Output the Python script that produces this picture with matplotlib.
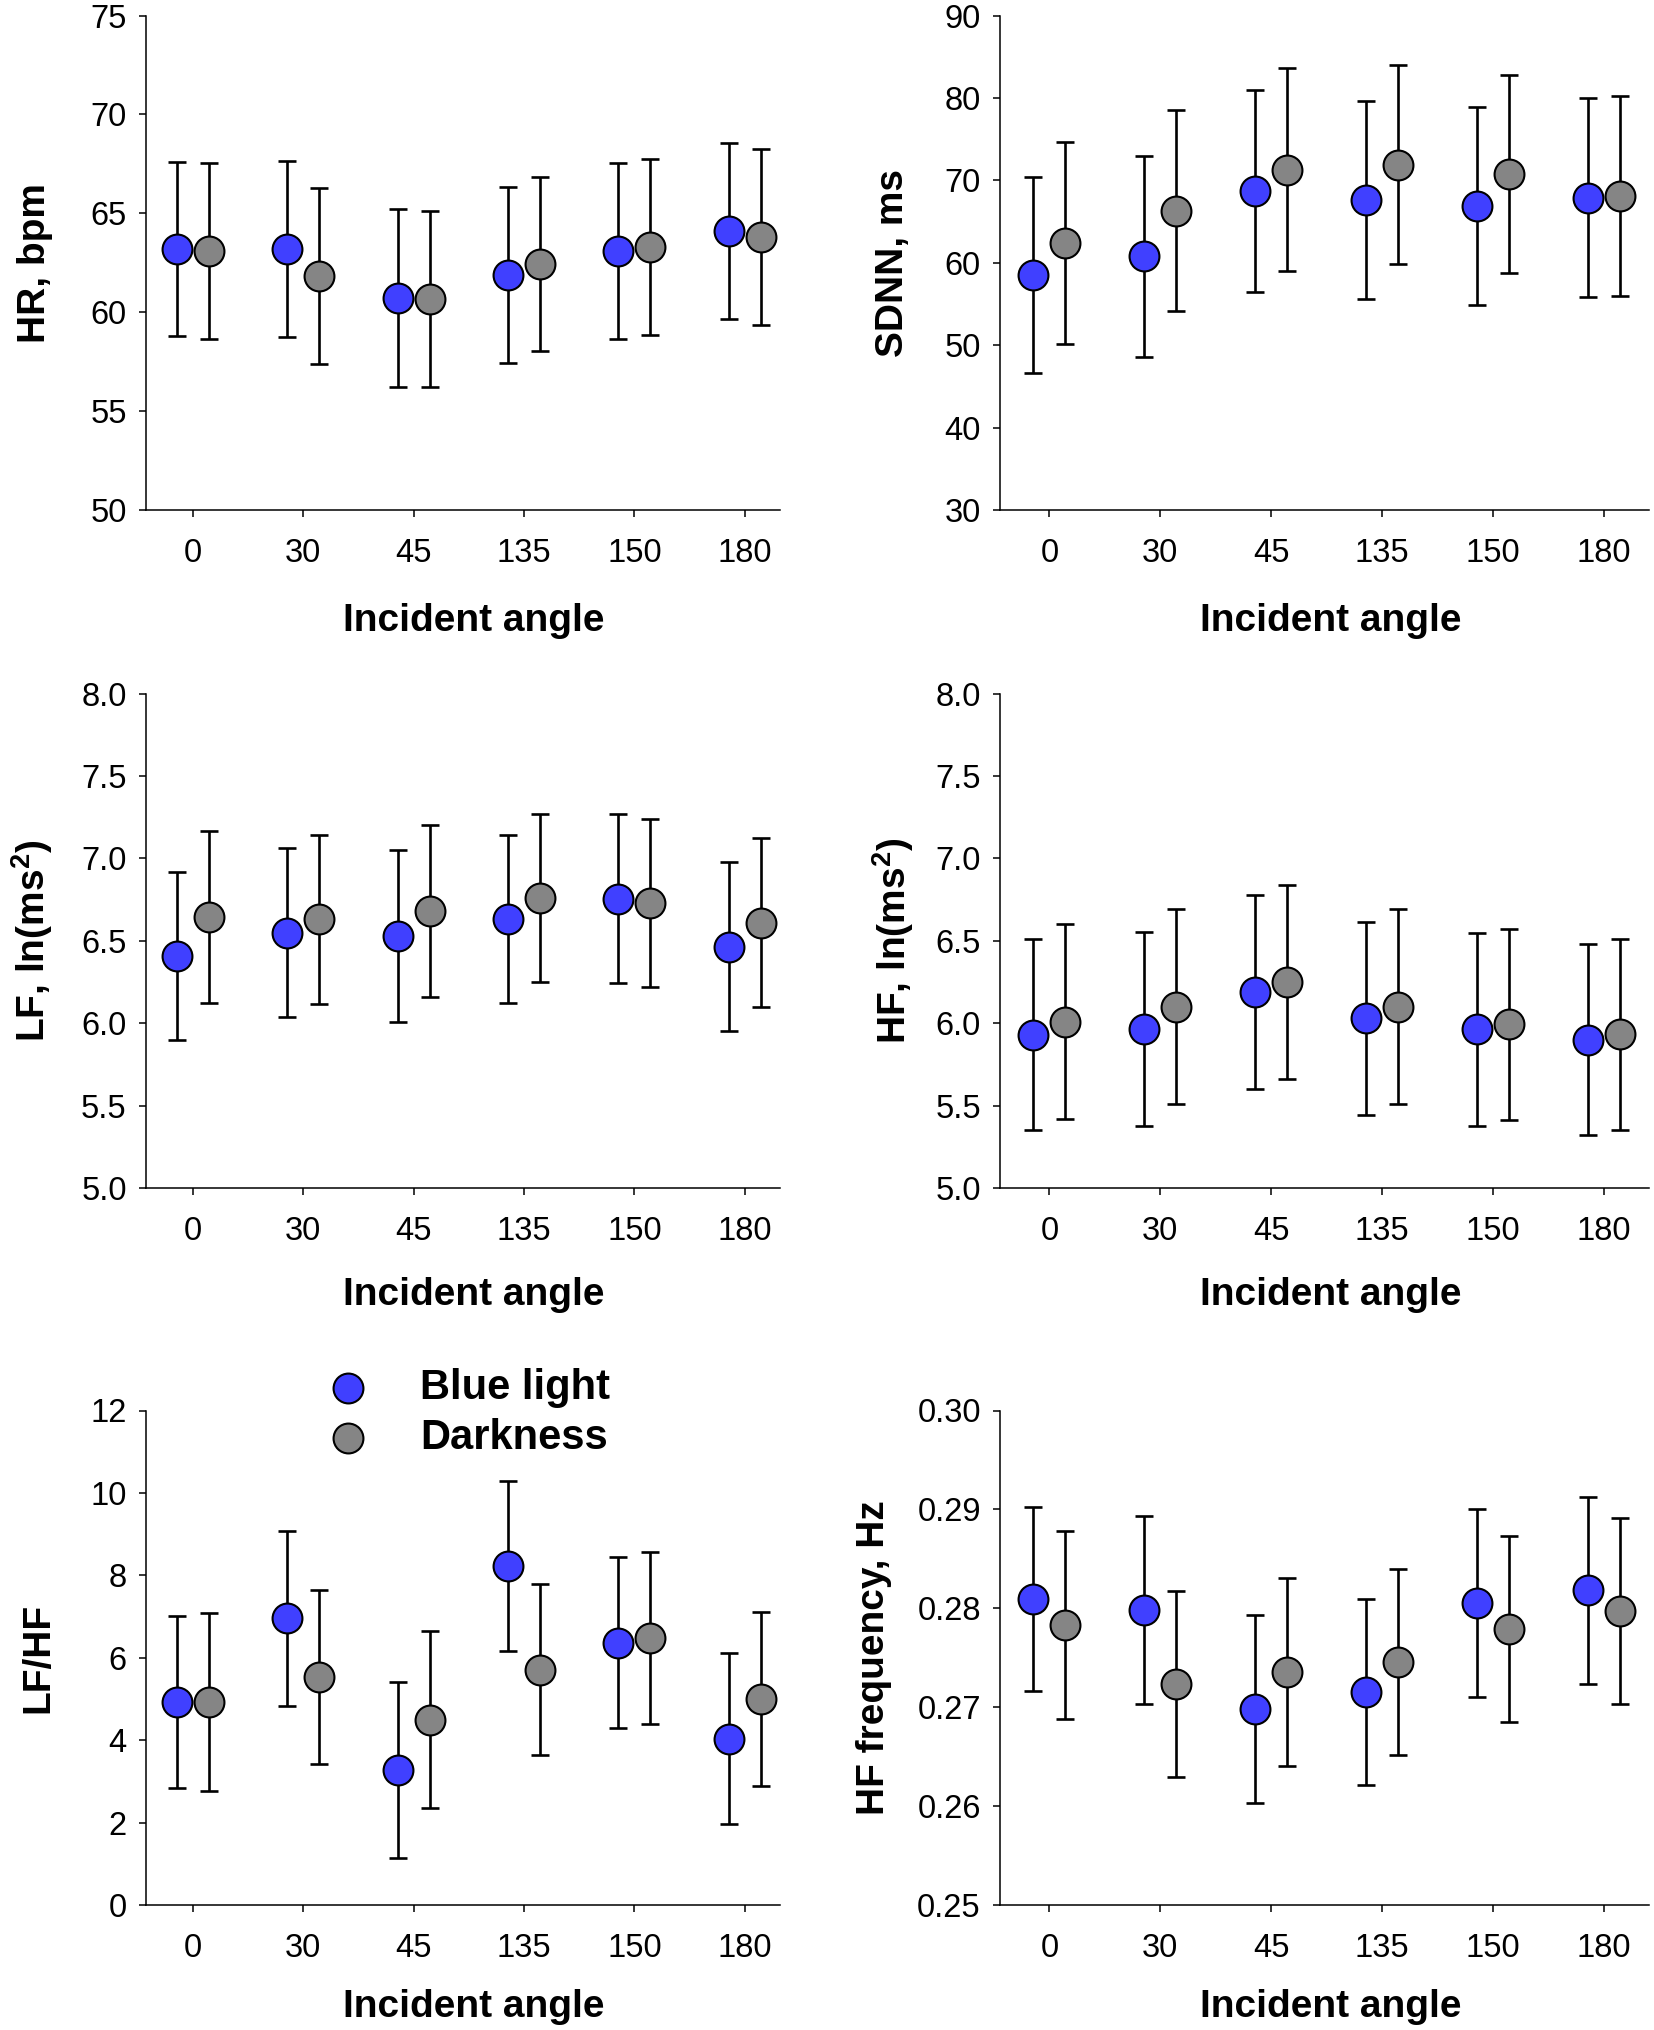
import matplotlib
matplotlib.use("Agg")
import matplotlib.pyplot as plt
import numpy as np

plt.rcParams['font.family'] = ['Liberation Sans', 'DejaVu Sans']
plt.rcParams['mathtext.fontset'] = 'custom'
plt.rcParams['mathtext.rm'] = 'Liberation Sans:bold'
plt.rcParams['mathtext.it'] = 'Liberation Sans:bold'
plt.rcParams['mathtext.bf'] = 'Liberation Sans:bold'

angles = ["0", "30", "45", "135", "150", "180"]

# HR, bpm
hr_blue = [63.2, 63.2, 60.7, 61.9, 63.1, 64.1]
hr_blue_err = [4.4, 4.45, 4.5, 4.45, 4.45, 4.45]
hr_dark = [63.1, 61.85, 60.65, 62.45, 63.3, 63.8]
hr_dark_err = [4.45, 4.45, 4.45, 4.4, 4.45, 4.45]

# SDNN, ms
sdnn_blue = [58.5, 60.8, 68.7, 67.6, 66.9, 67.9]
sdnn_blue_err = [11.9, 12.2, 12.2, 12.0, 12.0, 12.1]
sdnn_dark = [62.4, 66.3, 71.3, 71.9, 70.8, 68.1]
sdnn_dark_err = [12.2, 12.2, 12.3, 12.1, 12.0, 12.1]

# LF, ln(ms2)
lf_blue = [6.41, 6.55, 6.53, 6.635, 6.755, 6.465]
lf_blue_err = [0.51, 0.515, 0.52, 0.51, 0.512, 0.512]
lf_dark = [6.645, 6.63, 6.68, 6.76, 6.73, 6.61]
lf_dark_err = [0.52, 0.515, 0.52, 0.512, 0.51, 0.512]

# HF, ln(ms2)
hf_blue = [5.93, 5.965, 6.19, 6.03, 5.962, 5.90]
hf_blue_err = [0.58, 0.59, 0.59, 0.585, 0.585, 0.58]
hf_dark = [6.01, 6.10, 6.25, 6.10, 5.993, 5.932]
hf_dark_err = [0.59, 0.59, 0.59, 0.59, 0.58, 0.58]

# LF/HF
lfhf_blue = [4.93, 6.96, 3.28, 8.22, 6.37, 4.04]
lfhf_blue_err = [2.08, 2.12, 2.14, 2.06, 2.08, 2.08]
lfhf_dark = [4.93, 5.53, 4.50, 5.71, 6.48, 5.00]
lfhf_dark_err = [2.16, 2.12, 2.15, 2.07, 2.08, 2.11]

# HF frequency, Hz
hff_blue = [0.2809, 0.2798, 0.2698, 0.2715, 0.2805, 0.2818]
hff_blue_err = [0.0093, 0.0095, 0.0095, 0.0094, 0.0095, 0.0095]
hff_dark = [0.2783, 0.2723, 0.2736, 0.2746, 0.2779, 0.2797]
hff_dark_err = [0.0095, 0.0094, 0.0095, 0.0094, 0.0094, 0.0094]

panels = [
    dict(blue=hr_blue, be=hr_blue_err, dark=hr_dark, de=hr_dark_err,
         ylabel="HR, bpm", ylim=(50, 75), yticks=np.arange(50, 76, 5), fmt="{:.0f}"),
    dict(blue=sdnn_blue, be=sdnn_blue_err, dark=sdnn_dark, de=sdnn_dark_err,
         ylabel="SDNN, ms", ylim=(30, 90), yticks=np.arange(30, 91, 10), fmt="{:.0f}"),
    dict(blue=lf_blue, be=lf_blue_err, dark=lf_dark, de=lf_dark_err,
         ylabel=r"LF, ln(ms$^{2}$)", ylim=(5.0, 8.0), yticks=np.arange(5.0, 8.01, 0.5), fmt="{:.1f}"),
    dict(blue=hf_blue, be=hf_blue_err, dark=hf_dark, de=hf_dark_err,
         ylabel=r"HF, ln(ms$^{2}$)", ylim=(5.0, 8.0), yticks=np.arange(5.0, 8.01, 0.5), fmt="{:.1f}"),
    dict(blue=lfhf_blue, be=lfhf_blue_err, dark=lfhf_dark, de=lfhf_dark_err,
         ylabel="LF/HF", ylim=(0, 12), yticks=np.arange(0, 13, 2), fmt="{:.0f}"),
    dict(blue=hff_blue, be=hff_blue_err, dark=hff_dark, de=hff_dark_err,
         ylabel="HF frequency, Hz", ylim=(0.25, 0.30), yticks=np.arange(0.25, 0.3001, 0.01), fmt="{:.2f}"),
]

W, H = 1654, 2030
fig = plt.figure(figsize=(W / 100, H / 100), dpi=100)

col_x = [(146.2, 780.3), (1000.3, 1648.6)]
row_y = [(15.5, 510.0), (693.6, 1188.0), (1410.5, 1905.0)]
xlims = [(-0.42, 5.32), (-0.442, 5.40)]
ylab_x = [-0.175, -0.165, -0.18, -0.165, -0.17, -0.195]
xlab_y = [-0.225, -0.225, -0.217, -0.217, -0.207, -0.207]
xlab_x = [0.517, 0.509, 0.517, 0.509, 0.517, 0.509]

BLUE = "#4040ff"
GRAY = "#858585"
off = 0.145
x = np.arange(len(angles))

for i, p in enumerate(panels):
    r, c = divmod(i, 2)
    x0, x1 = col_x[c]
    ytop, ybot = row_y[r]
    ax = fig.add_axes([x0 / W, 1 - ybot / H, (x1 - x0) / W, (ybot - ytop) / H])
    for vals, errs, dx, col in [(p["blue"], p["be"], -off, BLUE), (p["dark"], p["de"], off, GRAY)]:
        ax.errorbar(x + dx, vals, yerr=errs, fmt="none", ecolor="black",
                    elinewidth=1.9, capsize=6.3, capthick=1.9, zorder=2)
        ax.plot(x + dx, vals, linestyle="none", marker="o", markersize=21.5,
                markerfacecolor=col, markeredgecolor="black", markeredgewidth=1.5, zorder=3)
    ax.set_xlim(*xlims[c])
    ax.set_ylim(*p["ylim"])
    ax.set_xticks(x)
    ax.set_xticklabels(angles)
    ax.set_yticks(p["yticks"])
    ax.set_yticklabels([p["fmt"].format(v) for v in p["yticks"]])
    for s in ["top", "right"]:
        ax.spines[s].set_visible(False)
    for s in ["left", "bottom"]:
        ax.spines[s].set_linewidth(1.1)
    ax.tick_params(axis="both", direction="out", length=5, width=1.1, labelsize=23.5)
    ax.tick_params(axis="x", pad=15)
    ax.tick_params(axis="y", pad=9)
    ax.set_ylabel(p["ylabel"], fontsize=28, fontweight="bold")
    ax.yaxis.label.set_va("center")
    ax.yaxis.set_label_coords(ylab_x[i], 0.5)
    ax.set_xlabel("Incident angle", fontsize=28, fontweight="bold")
    ax.xaxis.label.set_va("center")
    ax.xaxis.set_label_coords(xlab_x[i], xlab_y[i])
    ax.patch.set_alpha(0)

# legend (figure coordinates)
leg_items = [("Blue light", BLUE, 1388), ("Darkness", GRAY, 1438)]
for label, col, yp in leg_items:
    fig.lines.append(plt.Line2D([348 / W], [1 - yp / H], transform=fig.transFigure,
                                linestyle="none", marker="o", markersize=21.5,
                                markerfacecolor=col, markeredgecolor="black", markeredgewidth=1.5))
    fig.text(420 / W, 1 - yp / H, label, fontsize=30, fontweight="bold", va="center", ha="left")

fig.savefig("out.png", dpi=100)
